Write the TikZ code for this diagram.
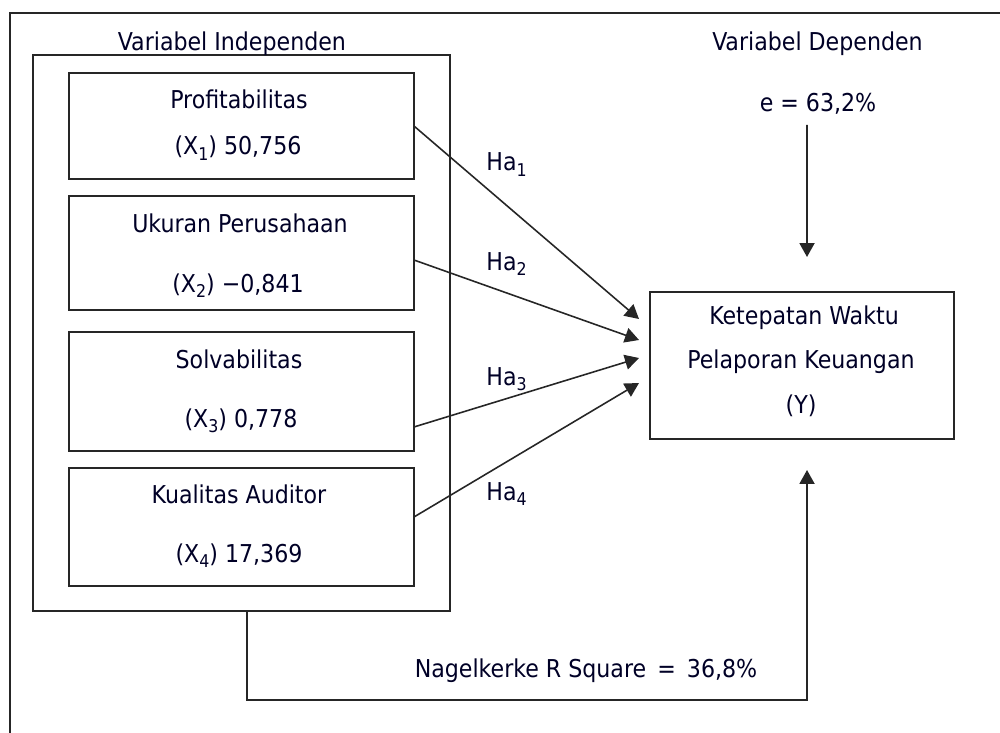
\documentclass[tikz,border=0pt]{standalone}
\usepackage{fontspec}
\setmainfont{DejaVu Sans Condensed}
\usetikzlibrary{arrows.meta,calc}
\newcommand{\lsub}[1]{\raisebox{-0.22em}{\fontsize{10}{10}\selectfont #1}}
\begin{document}
\begin{tikzpicture}[x=0.02cm,y=-0.02cm,
  frame/.style={draw=black!85,line width=1.1pt},
  box/.style={draw=black!85,line width=1.1pt,rectangle,inner sep=0pt,outer sep=0pt},
  txt/.style={font=\fontsize{14}{16}\selectfont,anchor=base,inner sep=0pt,text=black!85!blue},
  hlab/.style={txt,anchor=base west},
  arr/.style={draw=black!85,line width=0.9pt,-{Triangle[length=0.28cm,width=0.3cm]}},
  con/.style={draw=black!85,line width=1.1pt,-{Triangle[length=0.28cm,width=0.3cm]}}]
\useasboundingbox (0,0) rectangle (1000,733);
% outer frame (open at right and bottom)
\draw[frame] (10,733) -- (10,13) -- (1000,13);
% group box
\node[box,minimum width=8.34cm,minimum height=11.12cm] (ind) at (241.5,333) {};
\node[txt] (tind) at (232,51) {Variabel Independen};
\node[txt] (tdep) at (817.5,51) {Variabel Dependen};
% independent boxes
\node[box,minimum width=6.9cm,minimum height=2.12cm] (b1) at (241.5,126) {};
\node[box,minimum width=6.9cm,minimum height=2.28cm] (b2) at (241.5,253) {};
\node[box,minimum width=6.9cm,minimum height=2.38cm] (b3) at (241.5,391.5) {};
\node[box,minimum width=6.9cm,minimum height=2.36cm] (b4) at (241.5,527) {};
\node[txt] (t1a) at (239,109) {Profitabilitas};
\node[txt] (t1b) at (238,155) {(X\lsub{1}) 50,756};
\node[txt] (t2a) at (240,233) {Ukuran Perusahaan};
\node[txt] (t2b) at (238,292) {(X\lsub{2}) −0,841};
\node[txt] (t3a) at (239,368) {Solvabilitas};
\node[txt] (t3b) at (241,427) {(X\lsub{3}) 0,778};
\node[txt] (t4a) at (239,503) {Kualitas Auditor};
\node[txt] (t4b) at (239,562) {(X\lsub{4}) 17,369};
% dependent box
\node[box,minimum width=6.08cm,minimum height=2.94cm] (Y) at (802,365.5) {};
\node[txt] (ya) at (804,324) {Ketepatan Waktu};
\node[txt] (yb) at (801,368) {Pelaporan Keuangan};
\node[txt] (yc) at (801,413) {(Y)};
% error term
\node[txt] (e) at (818,112) {e = 63,2\%};
\coordinate (etop) at (807,125);
\draw[con,shorten >=0.7cm] (etop) -- ([xshift=0.1cm]Y.north);
% hypothesis arrows
\coordinate (e1) at (639,319);
\coordinate (e2) at (639,340);
\coordinate (e3) at (639,358);
\coordinate (e4) at (639,383);
\draw[arr] (b1.east) -- (e1);
\draw[arr] ([yshift=-0.14cm]b2.east) -- (e2);
\draw[arr] ([yshift=-0.71cm]b3.east) -- (e3);
\draw[arr] ([yshift=0.2cm]b4.east) -- (e4);
\node[hlab] (h1) at (486,171) {Ha\lsub{1}};
\node[hlab] (h2) at (486,270) {Ha\lsub{2}};
\node[hlab] (h3) at (486,385) {Ha\lsub{3}};
\node[hlab] (h4) at (486,500) {Ha\lsub{4}};
% Nagelkerke connector
\coordinate (bstart) at (247,611);
\draw[con,shorten >=0.62cm] (bstart) -- (247,700) -| ([xshift=0.1cm]Y.south);
\node[txt] (nag) at (586,677) {Nagelkerke R Square \,=\, 36,8\%};
\end{tikzpicture}
\end{document}
